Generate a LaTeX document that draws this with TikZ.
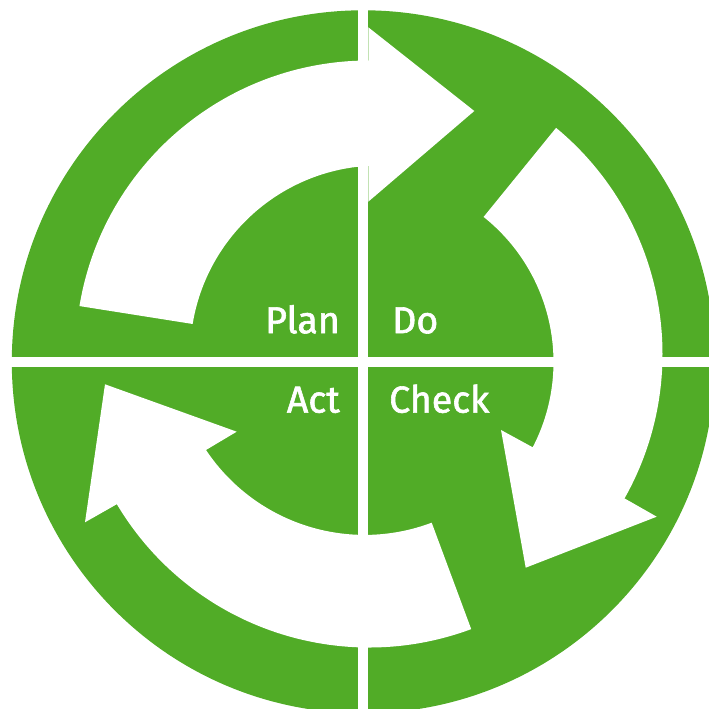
\documentclass[tikz,border=0pt]{standalone}
\usepackage{fontspec}
\newfontfamily\lblfont{Fira Sans}[FakeBold=1.6]
\definecolor{pdcagreen}{RGB}{81,172,39}
\tikzset{
  band/.style={fill=white},
  gapbar/.style={fill=white},
  lbl/.style={text=white, inner sep=0pt, font=\lblfont\fontsize{37.5}{42}\selectfont}
}
\begin{document}
\begin{tikzpicture}[x=1pt,y=1pt]
\useasboundingbox (0,0) rectangle (709,709);
\clip (0,0) rectangle (709,709);
% centres
\coordinate (C) at (363.3,347.2);
\coordinate (O) at (369,355);
\coordinate (PI) at (379.4,354.2);
\coordinate (DI) at (368,347);
\coordinate (BI) at (364.6,364.7);
% green disk
\fill[pdcagreen] (C) circle[radius=351.5];
% Plan arrow
\fill[band] ([shift={(170.6:293.5)}]O) arc[start angle=170.6,end angle=90.1,radius=293.5]
  -- (368.3,681.7) -- (474.3,598) -- (368.3,507.3)
  -- ([shift={(93.36:189.3)}]PI) arc[start angle=93.36,end angle=170.63,radius=189.3] -- cycle;
% Do arrow
\fill[band] ([shift={(50.4:293.5)}]O) arc[start angle=50.4,end angle=-29.47,radius=293.5]
  -- (656.7,192.3) -- (525.7,141.3) -- (501,279)
  -- ([shift={(-27.38:185.5)}]DI) arc[start angle=-27.38,end angle=51.45,radius=185.5] -- cycle;
% Check/Act arrow
\fill[band] ([shift={(-69.62:293.5)}]O) arc[start angle=-69.62,end angle=-149.22,radius=293.5]
  -- (85,186.7) -- (105,324.7) -- (236.7,277.3)
  -- ([shift={(-146.32:190.6)}]BI) arc[start angle=-146.32,end angle=-69.39,radius=190.6] -- cycle;
% gaps
\fill[gapbar] (358.3,0) rectangle (368.3,709);
\fill[gapbar] (0,341.7) rectangle (709,351.7);
% labels
\node[lbl, anchor=base east] (plan) at (340,375.8) {Plan};
\node[lbl, anchor=base west] (do) at (392,375.8) {Do};
\node[lbl, anchor=base east] (act) at (340,296.4) {Act};
\node[lbl, anchor=base west] (check) at (389,296.4) {Check};
\end{tikzpicture}
\end{document}
